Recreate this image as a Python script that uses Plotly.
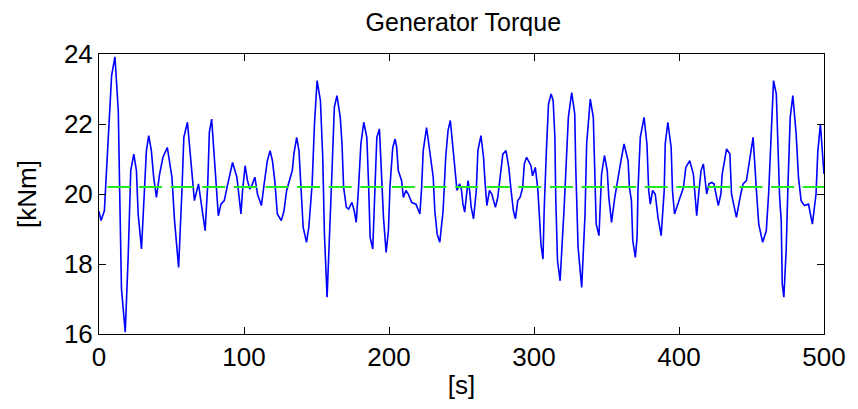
import plotly.graph_objects as go

# ---- data ----
time_s = [0.0, 1.4, 3.7, 5.3, 6.9, 8.7, 11.0, 13.3, 14.4, 15.5, 18.1, 20.1, 21.9, 24.0, 25.8, 27.0, 29.3, 31.1,
          32.7, 34.3, 36.1, 37.7, 39.6, 41.8, 44.1, 47.1, 50.3, 52.1, 54.9, 57.2, 58.5, 61.0, 63.1, 64.7, 65.8,
          68.6, 70.4, 73.2, 75.0, 76.1, 77.7, 79.6, 81.2, 82.3, 84.1, 86.4, 88.3, 89.8, 92.1, 95.1, 96.7, 97.9,
          99.0, 100.8, 102.4, 104.0, 105.4, 107.5, 109.3, 112.0, 113.9, 116.1, 118.0, 119.6, 121.2, 123.0,
          125.7, 127.6, 129.4, 131.0, 133.3, 134.4, 136.3, 137.9, 139.0, 140.8, 143.1, 144.7, 147.0, 148.6,
          150.4, 152.7, 154.3, 155.5, 157.3, 159.1, 160.7, 162.3, 164.1, 166.4, 167.6, 168.7, 170.6, 172.2,
          174.4, 176.0, 177.4, 179.0, 180.6, 182.6, 184.7, 185.9, 187.0, 188.8, 190.4, 191.6, 193.4, 195.0,
          196.2, 198.0, 199.6, 200.7, 202.6, 204.2, 205.3, 206.4, 208.7, 209.9, 211.7, 213.3, 215.6, 218.6,
          221.3, 222.5, 223.6, 225.9, 228.2, 230.5, 231.6, 233.2, 235.0, 237.3, 239.1, 240.7, 242.3, 244.2,
          246.0, 246.9, 248.7, 249.9, 251.0, 252.2, 254.5, 255.6, 256.7, 258.3, 260.2, 261.3, 263.4, 265.2,
          266.3, 267.5, 269.3, 270.9, 272.1, 273.4, 275.0, 276.6, 278.5, 280.7, 282.6, 284.2, 285.8, 287.2,
          288.8, 290.4, 292.2, 293.3, 294.9, 297.9, 299.0, 300.9, 302.5, 303.6, 304.8, 306.2, 307.0, 308.6,
          310.0, 311.8, 313.2, 314.4, 315.0, 316.2, 318.0, 320.8, 322.4, 323.7, 326.0, 328.1, 328.8, 330.4,
          332.9, 335.2, 336.3, 338.8, 340.9, 342.0, 342.9, 344.8, 346.6, 348.6, 350.5, 351.6, 353.5, 355.7,
          358.0, 359.6, 362.1, 364.9, 365.8, 367.2, 368.1, 369.9, 371.1, 371.7, 373.3, 375.9, 377.9, 379.1,
          380.2, 381.8, 383.6, 385.5, 387.7, 389.8, 390.5, 392.3, 394.6, 395.5, 396.9, 398.5, 400.8, 403.1,
          404.7, 407.4, 409.9, 411.1, 412.2, 413.8, 415.2, 416.8, 417.9, 419.1, 420.7, 422.5, 424.1, 425.9,
          427.1, 428.9, 429.8, 432.8, 435.1, 436.2, 439.6, 442.6, 444.2, 446.5, 448.8, 451.1, 453.4, 455.0,
          457.7, 460.2, 461.8, 463.2, 465.2, 467.1, 468.2, 469.4, 470.5, 471.2, 472.3, 473.9, 475.1, 476.7,
          478.5, 480.8, 482.4, 484.2, 486.5, 489.3, 492.0, 494.5, 495.7, 497.5, 500.0]

torque_knm = [19.5, 19.24, 19.52, 20.76, 22.33, 23.38, 23.92, 22.38, 19.76, 17.29, 16.05, 18.19, 20.67, 21.14,
              20.67, 19.43, 18.43, 19.90, 21.24, 21.67, 21.24, 20.48, 19.90, 20.57, 21.05, 21.33, 20.48, 19.24,
              17.90, 20.10, 21.62, 22.05, 21.05, 20.10, 19.81, 20.29, 19.81, 18.95, 20.29, 21.76, 22.14, 21.05,
              19.90, 19.38, 19.71, 19.81, 20.19, 20.48, 20.90, 20.48, 19.90, 19.43, 20.10, 20.81, 20.38, 20.14,
              20.24, 20.48, 20.00, 19.67, 20.29, 20.95, 21.24, 20.95, 20.38, 19.43, 19.24, 19.52, 20.10, 20.33,
              20.67, 21.14, 21.62, 21.24, 20.29, 19.05, 18.62, 19.05, 20.29, 22.00, 23.24, 22.67, 21.05, 18.81,
              17.05, 18.76, 20.67, 22.48, 22.81, 22.19, 21.43, 20.19, 19.62, 19.57, 19.76, 19.52, 19.19, 20.19,
              21.43, 22.05, 21.62, 20.29, 18.76, 18.43, 20.19, 21.62, 21.86, 20.48, 19.33, 18.33, 18.95, 20.24,
              21.33, 21.57, 21.33, 20.67, 20.38, 19.90, 20.10, 20.00, 19.76, 19.71, 19.43, 20.19, 21.24, 21.90,
              21.24, 20.48, 19.52, 18.86, 18.62, 19.52, 21.05, 21.81, 22.10, 21.24, 20.29, 20.10, 20.29, 20.14,
              19.71, 19.48, 20.38, 20.10, 19.62, 19.29, 20.10, 21.24, 21.67, 21.05, 20.29, 19.67, 20.10, 20.00,
              19.81, 19.62, 19.90, 20.48, 21.14, 21.24, 20.76, 20.10, 19.52, 19.29, 19.81, 19.90, 20.19, 20.86,
              21.05, 20.81, 20.52, 20.76, 20.19, 19.48, 18.57, 18.14, 19.52, 21.29, 22.57, 22.86, 22.67, 21.62,
              19.90, 18.10, 17.52, 19.62, 20.95, 22.19, 22.90, 22.29, 20.76, 18.48, 17.33, 19.43, 21.43, 22.71,
              22.19, 20.57, 19.14, 18.81, 20.57, 21.10, 20.67, 19.90, 19.19, 19.90, 20.52, 20.86, 21.43, 20.95,
              20.19, 19.81, 18.67, 18.19, 18.76, 20.10, 21.62, 22.19, 21.43, 20.10, 19.71, 20.10, 20.00, 19.33,
              18.81, 20.10, 21.43, 22.05, 21.33, 20.10, 19.43, 19.62, 19.90, 20.19, 20.76, 20.95, 20.57, 19.90,
              19.38, 20.10, 20.67, 20.86, 20.48, 20.00, 20.29, 20.33, 20.29, 19.86, 19.67, 20.00, 20.57, 21.29,
              21.14, 20.00, 19.33, 20.00, 20.29, 20.38, 21.05, 21.62, 20.10, 19.14, 18.62, 18.95, 20.00, 21.52,
              23.24, 22.86, 21.43, 19.90, 19.24, 17.43, 17.05, 18.38, 20.19, 22.19, 22.81, 21.71, 20.48, 19.81,
              19.67, 19.71, 19.14, 20.00, 21.19, 22.00, 20.57]

mean_span_s = [0, 500]
mean_torque_knm = [20.2, 20.2]

x_ticks = [0, 100, 200, 300, 400, 500]
y_ticks = [16, 18, 20, 22, 24]

FONT = "Liberation Sans, Arial, sans-serif"

fig = go.Figure()
fig.add_trace(go.Scatter(x=time_s, y=torque_knm, mode="lines",
                         line=dict(color="#0000ff", width=1.6), showlegend=False, hoverinfo="skip"))
fig.add_trace(go.Scatter(x=mean_span_s, y=mean_torque_knm, mode="lines",
                         line=dict(color="#22e822", width=2, dash="0px,8.5px,23px,0.1px"),
                         showlegend=False, hoverinfo="skip"))

axis_common = dict(showline=True, linecolor="black", linewidth=1, mirror="ticks",
                   ticks="inside", ticklen=7, tickwidth=1, tickcolor="black",
                   showgrid=False, zeroline=False,
                   tickfont=dict(family=FONT, size=26, color="black"))

fig.update_layout(
    width=858, height=409,
    margin=dict(l=99, r=30, t=54, b=75),
    paper_bgcolor="white", plot_bgcolor="white",
    title=dict(text="Generator Torque", x=0.54, xanchor="center", y=0.945, yanchor="middle",
               font=dict(family=FONT, size=25, color="black")),
    xaxis=dict(range=[0, 500], tickvals=x_ticks,
               title=dict(text="[s]", font=dict(family=FONT, size=26, color="black"), standoff=4),
               **axis_common),
    yaxis=dict(range=[16, 24], tickvals=y_ticks,
               title=dict(text="[kNm]", font=dict(family=FONT, size=26, color="black"), standoff=19),
               **axis_common),
)

fig.write_html("out.html")
